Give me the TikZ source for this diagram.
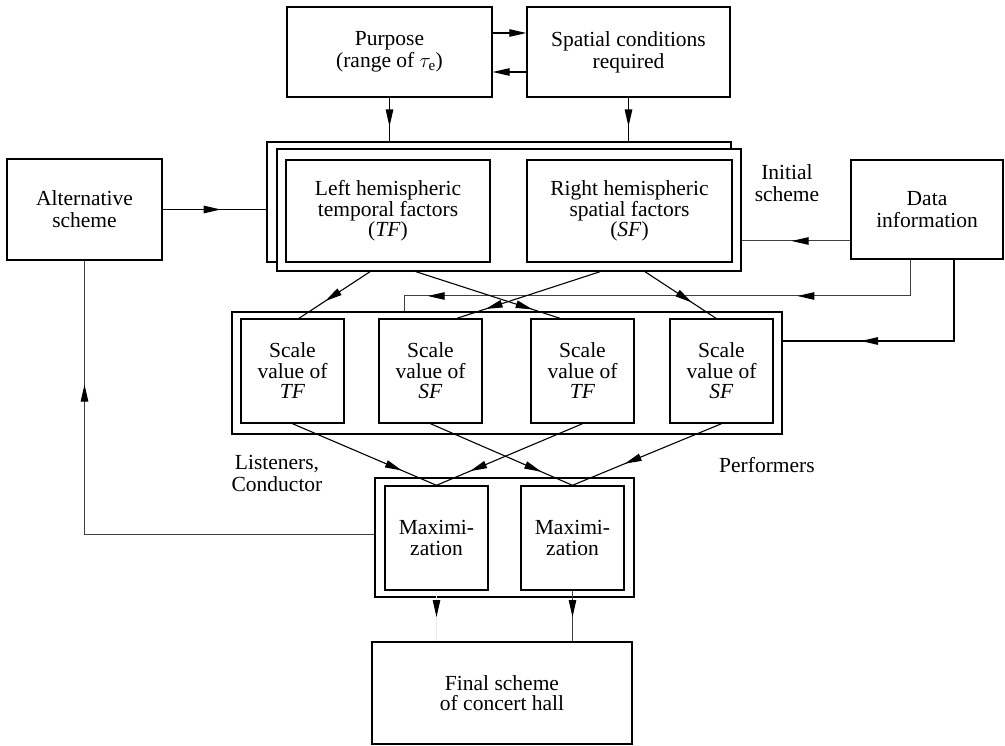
\documentclass[tikz,border=0pt]{standalone}
\usepackage{fontspec}
\setmainfont{Liberation Serif}
\usetikzlibrary{arrows.meta,decorations.markings,calc}
\tikzset{
  box/.style={draw, line width=1.4pt, fill=white, inner sep=0pt, align=center,
    font=\fontsize{21.5}{20.5}\selectfont},
  lbl/.style={inner sep=0pt, align=center, font=\fontsize{21.5}{22}\selectfont},
  conn/.style={line width=1.1pt},
  gconn/.style={line width=1pt, draw=black!75},
  faint/.style={line width=0.8pt, draw=black!8},
  >={Triangle[length=17pt,width=7.5pt]},
  midarrow/.style={postaction={decorate}, decoration={markings,
    mark=at position #1 with {\arrow{Triangle[length=17pt,width=7.5pt,color=black]}}}},
  twoarrows/.style 2 args={postaction={decorate}, decoration={markings,
    mark=at position #1 with {\arrow{Triangle[length=17pt,width=7.5pt,color=black]}},
    mark=at position #2 with {\arrow{Triangle[length=17pt,width=7.5pt,color=black]}}}},
}
\begin{document}
\begin{tikzpicture}[x=1pt,y=-1pt]
\useasboundingbox (0,0) rectangle (1005,746);

% top row
\node[box, minimum width=205pt, minimum height=90pt, font=\fontsize{21.5}{22}\selectfont] (purpose) at (389.5,52) {\raisebox{0pt}{Purpose}\\(range of $\tau_{\mathrm{e}}$)};
\node[box, minimum width=203pt, minimum height=90pt, font=\fontsize{21.5}{22}\selectfont] (spatial) at (628.5,52) {Spatial conditions\\required};

% initial scheme frames
\node[box, minimum width=464pt, minimum height=120pt] (back) at (499,202) {};
\node[box, minimum width=464pt, minimum height=122pt] (front) at (509,210) {};
\node[box, minimum width=204pt, minimum height=102pt, font=\fontsize{21.5}{18.5}\selectfont] (tl) at (388,211) {Left hemispheric\\temporal factors\\(\textit{TF})};
\node[box, minimum width=205pt, minimum height=102pt, font=\fontsize{21.5}{18.5}\selectfont] (tr) at (629.5,211) {Right hemispheric\\spatial factors\\(\textit{SF})};

\node[box, minimum width=155pt, minimum height=101pt, font=\fontsize{21.5}{22}\selectfont] (alt) at (84.5,209.5) {Alternative\\scheme};
\node[box, minimum width=152pt, minimum height=99pt, font=\fontsize{21.5}{22}\selectfont] (data) at (927,209.5) {Data\\information};
\node[lbl] (init) at (787,183) {Initial\\scheme};

% scale values
\node[box, minimum width=550pt, minimum height=122pt] (sfr) at (507,373) {};
\node[box, minimum width=103pt, minimum height=104pt] (b1) at (292.5,371) {Scale\\value of\\\textit{TF}};
\node[box, minimum width=103pt, minimum height=104pt] (b2) at (430.5,371) {Scale\\value of\\\textit{SF}};
\node[box, minimum width=103pt, minimum height=104pt] (b3) at (582.5,371) {Scale\\value of\\\textit{TF}};
\node[box, minimum width=103pt, minimum height=104pt] (b4) at (721.5,371) {Scale\\value of\\\textit{SF}};

% maximization
\node[box, minimum width=259pt, minimum height=119pt] (mfr) at (504.5,537.5) {};
\node[box, minimum width=103pt, minimum height=104pt] (m1) at (436.5,538) {Maximi-\\zation};
\node[box, minimum width=103pt, minimum height=104pt] (m2) at (572.5,538) {Maximi-\\zation};

\node[box, minimum width=260pt, minimum height=102pt, font=\fontsize{21.5}{20}\selectfont] (final) at (502,693) {Final scheme\\of concert hall};

\node[lbl] (listen) at (277,473) {Listeners,\\Conductor};
\node[lbl] (perf) at (767,465) {Performers};

% connectors, top
\draw[conn,->] ([yshift=19pt]purpose.east) -- ([yshift=19pt]spatial.west);
\draw[conn,->] ([yshift=-20pt]spatial.west) -- ([yshift=-20pt]purpose.east);
\draw[conn,midarrow=0.66] (purpose.south) -- (purpose.south |- back.north);
\draw[conn,midarrow=0.66] (spatial.south) -- (spatial.south |- back.north);
\draw[conn,midarrow=0.56] (alt.east) -- (alt.east -| back.west);
\draw[gconn,midarrow=0.54] ([yshift=-31.5pt]data.west) -- ([yshift=-31.5pt]data.west -| front.east);

% data lines to scale frame
\coordinate (d1) at (404,296);
\draw[gconn,twoarrows={0.267}{0.93}] ([xshift=-17pt]data.south) |- (d1) -- (d1 |- sfr.north);
\draw[conn,midarrow=0.69] ([xshift=27pt]data.south) |- ([yshift=32pt]sfr.east);

% initial scheme to scale values
\path (tl.south |- front.south) coordinate (fl);
\path (tr.south |- front.south) coordinate (fr);
\draw[conn,midarrow=0.63] ([xshift=-18pt]fl) -- ([xshift=6.5pt]b1.north);
\draw[conn,midarrow=0.81] ([xshift=28pt]fl) -- ([xshift=-22.5pt]b3.north);
\draw[conn,midarrow=0.80] ([xshift=-29.5pt]fr) -- ([xshift=26.5pt]b2.north);
\draw[conn,midarrow=0.66] ([xshift=15.5pt]fr) -- ([xshift=-5.5pt]b4.north);

% scale values to maximization
\draw[conn,midarrow=0.76] (b1.south) -- (m1.north);
\draw[conn,midarrow=0.78] (b2.south) -- (m2.north);
\draw[conn,midarrow=0.77] (b3.south) -- (m1.north);
\draw[conn,midarrow=0.65] (b4.south) -- (m2.north);

% maximization to final
\draw[faint,midarrow=0.52] (m1.south) -- (m1.south |- final.north);
\draw[gconn,midarrow=0.52] (m2.south) -- (m2.south |- final.north);

% feedback
\draw[gconn,midarrow=0.78] ([yshift=3.5pt]mfr.west) -| (alt.south);
\end{tikzpicture}
\end{document}
